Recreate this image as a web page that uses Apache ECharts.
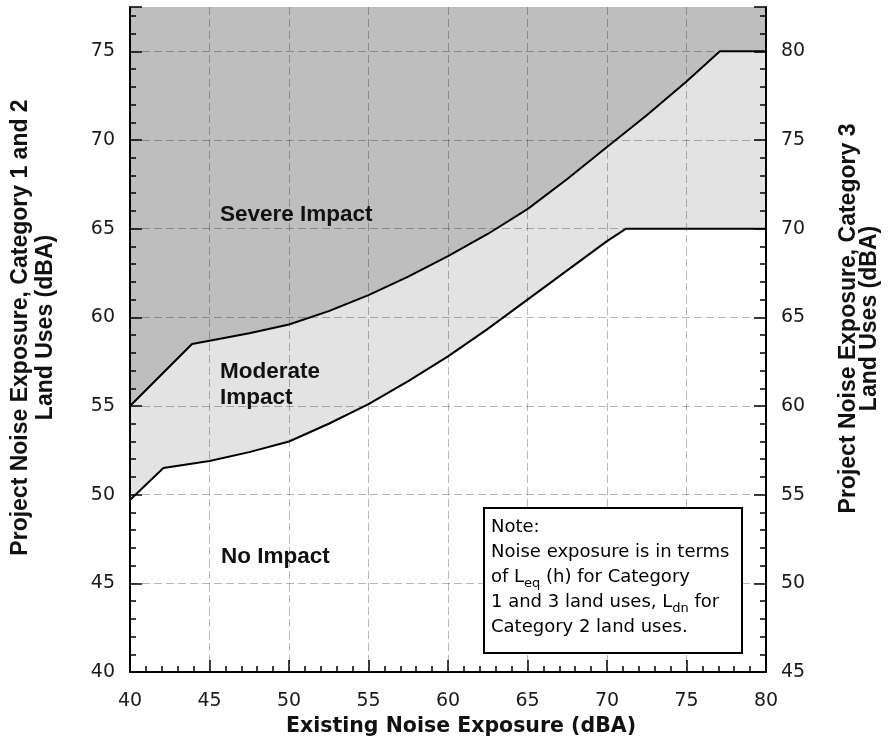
<!DOCTYPE html>
<html>
<head>
<meta charset="utf-8">
<script src="https://cdn.jsdelivr.net/npm/echarts@6/dist/echarts.min.js"></script>
<style>
  html, body { margin: 0; padding: 0; background: #fff; }
  #chart { width: 888px; height: 754px; }
</style>
</head>
<body>
<div id="chart"></div>
<script>
// severe impact threshold (upper curve)
var severeX = [40, 43.9, 45, 47.5, 50, 52.5, 55, 57.5, 60, 62.5, 65, 67.5, 70, 72.5, 75, 77.1, 80];
var severeY = [55.0, 58.5, 58.68, 59.1, 59.6, 60.35, 61.25, 62.3, 63.45, 64.7, 66.1, 67.8, 69.6, 71.4, 73.3, 75.0, 75.0];

// moderate impact threshold (lower curve)
var moderateX = [40, 42.1, 45, 47.5, 50, 52.5, 55, 57.5, 60, 62.5, 65, 67.5, 70, 71.2, 80];
var moderateY = [49.7, 51.5, 51.9, 52.4, 53.0, 54.0, 55.1, 56.4, 57.8, 59.35, 61.0, 62.65, 64.3, 65.0, 65.0];

// tick labels
var xTicks = [40, 45, 50, 55, 60, 65, 70, 75, 80];
var leftTicks = [40, 45, 50, 55, 60, 65, 70, 75];
var rightTicks = [45, 50, 55, 60, 65, 70, 75, 80];
var leftTop = 77.5;
var rightTop = 82.5;

function pairs(xs, ys) {
  return xs.map(function (x, i) { return [x, ys[i]]; });
}

var tickFont = { fontFamily: 'DejaVu Sans', fontSize: 19, color: '#1a1a1a' };
var gridLine = { color: 'rgba(0,0,0,0.28)', width: 1, type: [8, 4] };

var myChart = echarts.init(document.getElementById('chart'));
var option = {
  animation: false,
  backgroundColor: '#fff',
  grid: { left: 130, right: 122, top: 7, bottom: 82, containLabel: false, outerBoundsMode: 'none' },
  xAxis: [
    {
      type: 'value',
      position: 'bottom',
      min: xTicks[0],
      max: xTicks[xTicks.length - 1],
      interval: 5,
      z: 5,
      name: 'Existing Noise Exposure (dBA)',
      nameLocation: 'middle',
      nameGap: 34,
      nameTextStyle: {
        fontFamily: 'DejaVu Sans', fontWeight: 'bold', fontSize: 20.5, color: '#111',
        padding: [0, 0, 0, 26]
      },
      axisLine: { onZero: false, lineStyle: { color: '#000', width: 2 } },
      axisTick: { inside: true, length: 12, lineStyle: { color: '#000', width: 1.5 } },
      axisLabel: Object.assign({ margin: 20 }, tickFont),
      splitLine: { show: true, showMinLine: false, showMaxLine: false, lineStyle: gridLine }
    },
    {
      // minor ticks every 1 dBA
      type: 'value',
      position: 'bottom',
      min: xTicks[0],
      max: xTicks[xTicks.length - 1],
      interval: 1,
      z: 5,
      axisLine: { show: false },
      axisTick: { inside: true, length: 6, lineStyle: { color: '#000', width: 1.5 } },
      axisLabel: { show: false },
      splitLine: { show: false }
    }
  ],
  yAxis: [
    {
      type: 'value',
      position: 'left',
      min: leftTicks[0],
      max: leftTop,
      interval: 5,
      z: 5,
      name: 'Project Noise Exposure, Category 1 and 2\nLand Uses (dBA)',
      nameLocation: 'middle',
      nameRotate: 90,
      nameGap: 72,
      nameTextStyle: {
        fontFamily: 'Liberation Sans', fontWeight: 'bold', fontSize: 23, lineHeight: 25,
        color: '#111', padding: [0, 0, 0, 24]
      },
      axisLine: { onZero: false, lineStyle: { color: '#000', width: 2 } },
      axisTick: { inside: true, length: 12, lineStyle: { color: '#000', width: 1.5 } },
      axisLabel: Object.assign({
        margin: 15,
        formatter: function (v) { return leftTicks.indexOf(v) >= 0 ? String(v) : ''; }
      }, tickFont),
      splitLine: { show: true, showMinLine: false, showMaxLine: false, lineStyle: gridLine }
    },
    {
      type: 'value',
      position: 'right',
      min: rightTicks[0],
      max: rightTop,
      interval: 5,
      z: 5,
      name: 'Project Noise Exposure, Category 3\nLand Uses (dBA)',
      nameLocation: 'middle',
      nameRotate: 90,
      nameGap: 72,
      nameTextStyle: {
        fontFamily: 'Liberation Sans', fontWeight: 'bold', fontSize: 23, lineHeight: 21,
        color: '#111', padding: [0, 0, 0, 42]
      },
      axisLine: { onZero: false, lineStyle: { color: '#000', width: 2 } },
      axisTick: { inside: true, length: 12, lineStyle: { color: '#000', width: 1.5 } },
      axisLabel: Object.assign({
        margin: 15,
        formatter: function (v) { return rightTicks.indexOf(v) >= 0 ? String(v) : ''; }
      }, tickFont),
      splitLine: { show: false }
    },
    {
      type: 'value',
      position: 'left',
      min: leftTicks[0],
      max: leftTop,
      interval: 1,
      z: 5,
      axisLine: { show: false },
      axisTick: { inside: true, length: 6, lineStyle: { color: '#000', width: 1.5 } },
      axisLabel: { show: false },
      splitLine: { show: false }
    },
    {
      type: 'value',
      position: 'right',
      min: rightTicks[0],
      max: rightTop,
      interval: 1,
      z: 5,
      axisLine: { show: false },
      axisTick: { inside: true, length: 6, lineStyle: { color: '#000', width: 1.5 } },
      axisLabel: { show: false },
      splitLine: { show: false }
    }
  ],
  series: [
    {
      name: 'Moderate',
      type: 'line',
      xAxisIndex: 0,
      yAxisIndex: 0,
      z: 1,
      symbol: 'none',
      lineStyle: { color: '#000', width: 2, join: 'round' },
      areaStyle: { origin: 'end', color: '#e3e3e3', opacity: 1 },
      data: pairs(moderateX, moderateY)
    },
    {
      name: 'Severe',
      type: 'line',
      xAxisIndex: 0,
      yAxisIndex: 0,
      z: 2,
      symbol: 'none',
      lineStyle: { color: '#000', width: 2, join: 'round' },
      areaStyle: { origin: 'end', color: '#bebebe', opacity: 1 },
      data: pairs(severeX, severeY)
    }
  ],
  graphic: [
    {
      type: 'text', x: 220, y: 215, z: 10,
      style: {
        text: 'Severe Impact', font: 'bold 22.5px "Liberation Sans"', fill: '#111',
        textVerticalAlign: 'middle', verticalAlign: 'middle'
      }
    },
    {
      type: 'text', x: 220, y: 385, z: 10,
      style: {
        text: 'Moderate\nImpact', font: 'bold 22.5px "Liberation Sans"', lineHeight: 26, fill: '#111',
        textVerticalAlign: 'middle', verticalAlign: 'middle'
      }
    },
    {
      type: 'text', x: 221, y: 557, z: 10,
      style: {
        text: 'No Impact', font: 'bold 22.5px "Liberation Sans"', fill: '#111',
        textVerticalAlign: 'middle', verticalAlign: 'middle'
      }
    },
    {
      type: 'group', z: 10,
      children: [
        {
          type: 'rect', z: 10,
          shape: { x: 484, y: 508, width: 258, height: 145 },
          style: { fill: '#fff', stroke: '#000', lineWidth: 2 }
        },
        {
          type: 'text', x: 491, y: 515, z: 11,
          style: {
            text: '{n|Note:}\n{n|Noise exposure is in terms}\n{n|of L}{s|eq}{n| (h) for Category}\n' +
                  '{n|1 and 3 land uses, L}{s|dn}{n| for}\n{n|Category 2 land uses.}',
            textVerticalAlign: 'top', verticalAlign: 'top',
            rich: {
              n: { fontFamily: 'DejaVu Sans', fontSize: 18, lineHeight: 25, color: '#111' },
              s: { fontFamily: 'DejaVu Sans', fontSize: 13, lineHeight: 13, verticalAlign: 'bottom', color: '#111' }
            }
          }
        }
      ]
    }
  ]
};
myChart.setOption(option);
</script>
</body>
</html>
